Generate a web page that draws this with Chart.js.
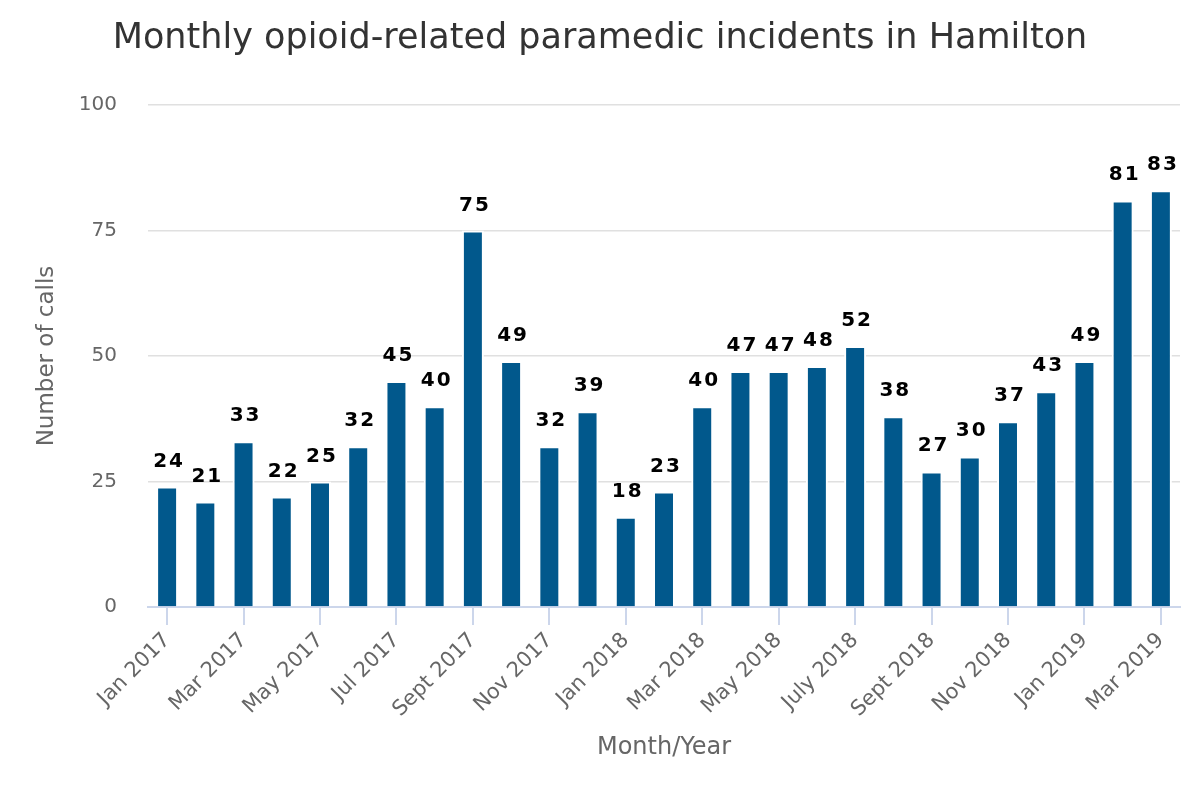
<!DOCTYPE html>
<html>
<head>
<meta charset="utf-8">
<script src="https://cdn.jsdelivr.net/npm/chart.js@4.4.1/dist/chart.umd.min.js"></script>
<style>
  html, body { margin: 0; padding: 0; background: #fff; }
  #wrap { width: 1200px; height: 800px; }
</style>
</head>
<body>
<div id="wrap"><canvas id="chart"></canvas></div>
<script>
'use strict';
// Monthly opioid-related paramedic incidents, Jan 2017 – Mar 2019

const months = [
    'Jan 2017', 'Feb 2017', 'Mar 2017', 'Apr 2017', 'May 2017', 'Jun 2017',
    'Jul 2017', 'Aug 2017', 'Sept 2017', 'Oct 2017', 'Nov 2017', 'Dec 2017',
    'Jan 2018', 'Feb 2018', 'Mar 2018', 'Apr 2018', 'May 2018', 'June 2018',
    'July 2018', 'Aug 2018', 'Sept 2018', 'Oct 2018', 'Nov 2018', 'Dec 2018',
    'Jan 2019', 'Feb 2019', 'Mar 2019',
];
const calls = [
    24, 21, 33, 22, 25, 32, 45, 40, 75, 49, 32, 39,
    18, 23, 40, 47, 47, 48, 52, 38, 27, 30, 37, 43,
    49, 81, 83,
];
const yTicks = [0, 25, 50, 75, 100];
const chartTitle = 'Monthly opioid-related paramedic incidents in Hamilton';

const FONT = '"DejaVu Sans", Verdana, sans-serif';
const BAR = '#01588c';
const GREY = '#666666';

// Title centred on the whole canvas (the built-in one centres on the padded box)
const pageTitle = {
    id: 'pageTitle',
    afterDraw(chart) {
        const ctx = chart.ctx;
        ctx.save();
        ctx.font = `35px ${FONT}`;
        ctx.fillStyle = '#333333';
        ctx.textAlign = 'center';
        ctx.textBaseline = 'alphabetic';
        ctx.fillText(chartTitle, chart.width / 2, 48);
        ctx.restore();
    },
};

// Value labels above each bar
const barValues = {
    id: 'barValues',
    afterDatasetsDraw(chart) {
        const ctx = chart.ctx;
        const meta = chart.getDatasetMeta(0);
        ctx.save();
        ctx.font = `bold 20px ${FONT}`;
        ctx.fillStyle = '#000';
        ctx.textAlign = 'center';
        ctx.textBaseline = 'alphabetic';
        if ('letterSpacing' in ctx) ctx.letterSpacing = '2px';
        meta.data.forEach((bar, i) => {
            ctx.fillText(String(calls[i]), bar.x + 2, bar.y - 20);
        });
        ctx.restore();
    },
};

new Chart(document.getElementById('chart'), {
    type: 'bar',
    data: {
        labels: months,
        datasets: [{
            label: 'Number of calls',
            data: calls,
            backgroundColor: BAR,
            borderColor: '#ffffff',
            borderWidth: 2,
            categoryPercentage: 1,
            barPercentage: 0.575,
        }],
    },
    options: {
        responsive: true,
        maintainAspectRatio: false,
        animation: false,
        layout: { padding: { left: 0, right: 20, top: 105, bottom: 0 } },
        plugins: {
            legend: { display: false },
            tooltip: { enabled: false },
            title: { display: false },
        },
        scales: {
            x: {
                afterFit(scale) { scale.height = 193; },
                border: { display: true, color: '#ccd6eb', width: 2 },
                grid: {
                    offset: false,
                    drawOnChartArea: false,
                    drawTicks: true,
                    tickLength: 18,
                    lineWidth: 2,
                    color: c => (c.index % 2 === 0 ? '#ccd6eb' : 'rgba(0,0,0,0)'),
                },
                ticks: {
                    autoSkip: false,
                    minRotation: 45,
                    maxRotation: 45,
                    padding: 3,
                    color: GREY,
                    font: { family: FONT, size: 21 },
                    callback: (v, i) => (i % 2 === 0 ? months[i] : ''),
                },
                title: {
                    display: true,
                    text: 'Month/Year',
                    color: GREY,
                    font: { family: FONT, size: 24 },
                    padding: { top: 0, bottom: 38 },
                },
            },
            y: {
                min: 0,
                max: 100,
                afterFit(scale) { scale.width = 148; },
                afterBuildTicks(scale) { scale.ticks = yTicks.map(v => ({ value: v })); },
                border: { display: false },
                grid: { color: '#e0e0e0', lineWidth: 1.5, drawTicks: false },
                ticks: {
                    padding: 31,
                    color: GREY,
                    font: { family: FONT, size: 20 },
                },
                title: {
                    display: true,
                    text: 'Number of calls',
                    color: GREY,
                    font: { family: FONT, size: 23 },
                    padding: { top: 33, bottom: 0 },
                },
            },
        },
    },
    plugins: [barValues, pageTitle],
});
</script>
</body>
</html>
